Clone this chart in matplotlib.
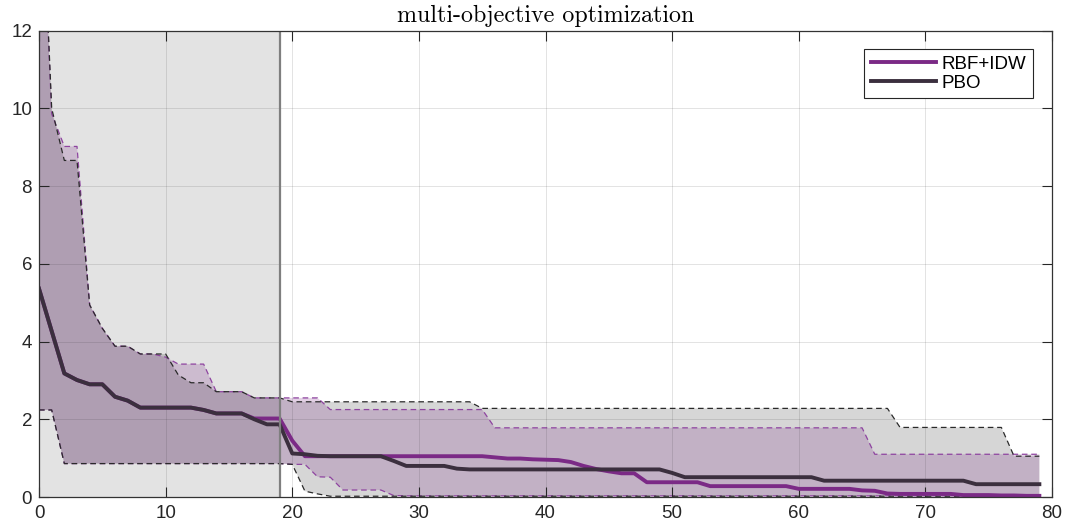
import numpy as np
import matplotlib
matplotlib.use("Agg")
import matplotlib.pyplot as plt

# iterations
x = np.arange(80)

# median curves
pbo_med = [5.36, 4.27, 3.18, 3.01, 2.90, 2.90, 2.58, 2.48, 2.30, 2.30,
           2.30, 2.30, 2.30, 2.24, 2.15, 2.15, 2.15, 2.00, 1.87, 1.87,
           1.12, 1.10, 1.06, 1.05, 1.05, 1.05, 1.05, 1.05, 0.93, 0.80,
           0.80, 0.80, 0.80, 0.73, 0.71, 0.71, 0.71, 0.71, 0.71, 0.71,
           0.71, 0.71, 0.71, 0.71, 0.71, 0.71, 0.71, 0.71, 0.71, 0.71,
           0.62, 0.51, 0.51, 0.51, 0.51, 0.51, 0.51, 0.51, 0.51, 0.51,
           0.51, 0.51, 0.42, 0.42, 0.42, 0.42, 0.42, 0.42, 0.42, 0.42,
           0.42, 0.42, 0.42, 0.42, 0.33, 0.33, 0.33, 0.33, 0.33, 0.33]
rbf_med = [5.36, 4.27, 3.18, 3.01, 2.90, 2.90, 2.58, 2.48, 2.30, 2.30,
           2.30, 2.30, 2.30, 2.24, 2.15, 2.15, 2.15, 2.02, 2.02, 2.02,
           1.45, 1.05, 1.05, 1.05, 1.05, 1.05, 1.05, 1.05, 1.05, 1.05,
           1.05, 1.05, 1.05, 1.05, 1.05, 1.05, 1.02, 0.99, 0.99, 0.97,
           0.96, 0.95, 0.90, 0.80, 0.72, 0.66, 0.61, 0.61, 0.38, 0.38,
           0.38, 0.38, 0.38, 0.28, 0.28, 0.28, 0.28, 0.28, 0.28, 0.28,
           0.21, 0.21, 0.21, 0.21, 0.21, 0.17, 0.16, 0.09, 0.08, 0.08,
           0.08, 0.08, 0.08, 0.05, 0.05, 0.05, 0.04, 0.04, 0.03, 0.03]

# band limits
pbo_hi = [17.5, 10.0, 8.66, 8.66, 4.94, 4.34, 3.88, 3.88, 3.68, 3.68,
          3.68, 3.14, 2.94, 2.94, 2.71, 2.71, 2.71, 2.55, 2.55, 2.55,
          2.45, 2.45, 2.45, 2.45, 2.45, 2.45, 2.45, 2.45, 2.45, 2.45,
          2.45, 2.45, 2.45, 2.45, 2.45, 2.28, 2.28, 2.28, 2.28, 2.28,
          2.28, 2.28, 2.28, 2.28, 2.28, 2.28, 2.28, 2.28, 2.28, 2.28,
          2.28, 2.28, 2.28, 2.28, 2.28, 2.28, 2.28, 2.28, 2.28, 2.28,
          2.28, 2.28, 2.28, 2.28, 2.28, 2.28, 2.28, 2.28, 1.79, 1.79,
          1.79, 1.79, 1.79, 1.79, 1.79, 1.79, 1.79, 1.05, 1.05, 1.05]
pbo_lo = [2.24, 2.24, 0.86, 0.86, 0.86, 0.86, 0.86, 0.86, 0.86, 0.86,
          0.86, 0.86, 0.86, 0.86, 0.86, 0.86, 0.86, 0.86, 0.86, 0.86,
          0.84, 0.15, 0.08, 0.02, 0.02, 0.02, 0.02, 0.02, 0.02, 0.02,
          0.02, 0.02, 0.02, 0.02, 0.02, 0.02, 0.02, 0.02, 0.02, 0.02,
          0.02, 0.02, 0.02, 0.02, 0.02, 0.02, 0.02, 0.02, 0.02, 0.02,
          0.02, 0.02, 0.02, 0.02, 0.02, 0.02, 0.02, 0.02, 0.02, 0.02,
          0.02, 0.02, 0.02, 0.02, 0.02, 0.02, 0.02, 0.02, 0.02, 0.02,
          0.02, 0.02, 0.02, 0.02, 0.02, 0.02, 0.02, 0.02, 0.02, 0.02]
rbf_hi = [17.5, 9.86, 9.02, 9.02, 4.94, 4.34, 3.88, 3.88, 3.68, 3.68,
          3.60, 3.42, 3.42, 3.42, 2.71, 2.71, 2.71, 2.55, 2.55, 2.55,
          2.55, 2.55, 2.55, 2.25, 2.25, 2.25, 2.25, 2.25, 2.25, 2.25,
          2.25, 2.25, 2.25, 2.25, 2.25, 2.25, 1.78, 1.78, 1.78, 1.78,
          1.78, 1.78, 1.78, 1.78, 1.78, 1.78, 1.78, 1.78, 1.78, 1.78,
          1.78, 1.78, 1.78, 1.78, 1.78, 1.78, 1.78, 1.78, 1.78, 1.78,
          1.78, 1.78, 1.78, 1.78, 1.78, 1.78, 1.10, 1.10, 1.10, 1.10,
          1.10, 1.10, 1.10, 1.10, 1.10, 1.10, 1.10, 1.10, 1.10, 1.10]
rbf_lo = [2.24, 2.24, 0.86, 0.86, 0.86, 0.86, 0.86, 0.86, 0.86, 0.86,
          0.86, 0.86, 0.86, 0.86, 0.86, 0.86, 0.86, 0.86, 0.86, 0.86,
          0.84, 0.84, 0.52, 0.51, 0.18, 0.18, 0.18, 0.18, 0.04, 0.03,
          0.03, 0.03, 0.03, 0.03, 0.03, 0.03, 0.03, 0.03, 0.03, 0.03,
          0.03, 0.03, 0.03, 0.03, 0.03, 0.03, 0.03, 0.03, 0.03, 0.03,
          0.03, 0.03, 0.03, 0.03, 0.03, 0.03, 0.03, 0.03, 0.03, 0.03,
          0.03, 0.03, 0.03, 0.03, 0.03, 0.03, 0.03, 0.03, 0.03, 0.03,
          0.03, 0.03, 0.03, 0.03, 0.03, 0.03, 0.03, 0.03, 0.03, 0.03]

n_init = 19  # end of initial sampling phase
labels = ["RBF+IDW", "PBO"]

purple = "#7b2a86"
dark = "#3b2f3e"

plt.rcParams.update({"font.family": "Liberation Sans", "font.size": 13})

fig = plt.figure(figsize=(10.66, 5.27), dpi=100)
ax = fig.add_axes([0.0366, 0.0569, 0.9503, 0.885])

ax.axvspan(0, n_init, color="#e3e3e3", lw=0, zorder=0)

ax.fill_between(x, pbo_lo, pbo_hi, color="black", alpha=0.16, lw=0, zorder=1)
ax.fill_between(x, rbf_lo, rbf_hi, color=purple, alpha=0.21, lw=0, zorder=1.1)

dash = (0, (4.5, 3))
ax.plot(x, rbf_hi, color="#8e44a0", lw=0.9, ls=dash, zorder=2)
ax.plot(x, rbf_lo, color="#8e44a0", lw=0.9, ls=dash, zorder=2)
ax.plot(x, pbo_hi, color="#2a2a2a", lw=0.9, ls=dash, zorder=2.1)
ax.plot(x, pbo_lo, color="#2a2a2a", lw=0.9, ls=dash, zorder=2.1)

ax.plot(x, rbf_med, color=purple, lw=2.8, label=labels[0], zorder=3)
ax.plot(x, pbo_med, color=dark, lw=2.8, label=labels[1], zorder=3.1)

ax.axvline(n_init, color="#7f7f7f", lw=1.6, zorder=4)

ax.set_xlim(0, 80)
ax.set_ylim(0, 12)
ax.set_xticks(np.arange(0, 81, 10))
ax.set_yticks(np.arange(0, 13, 2))
ax.grid(True, color="#262626", alpha=0.15, lw=0.6)
ax.set_axisbelow(False)
ax.tick_params(direction="in", length=7, width=0.8, top=True, right=True,
               colors="#262626", labelcolor="#262626", labelsize=13.5)
ax.tick_params(axis="x", pad=6)
ax.tick_params(axis="y", pad=5)
for s in ax.spines.values():
    s.set_color("#333333")
    s.set_linewidth(0.9)
    s.set_zorder(5)

ax.set_title("multi-objective optimization", fontfamily="cmr10", fontsize=17.3, pad=6)

leg = ax.legend(loc="upper right", fontsize=13.5, frameon=True, fancybox=False,
                handlelength=3.5, labelspacing=0.08, borderaxespad=1.0,
                borderpad=0.35, handletextpad=0.3)
leg.get_frame().set_edgecolor("#262626")
leg.get_frame().set_linewidth(0.8)
leg.get_frame().set_alpha(1)

fig.savefig("out.png", dpi=100)
